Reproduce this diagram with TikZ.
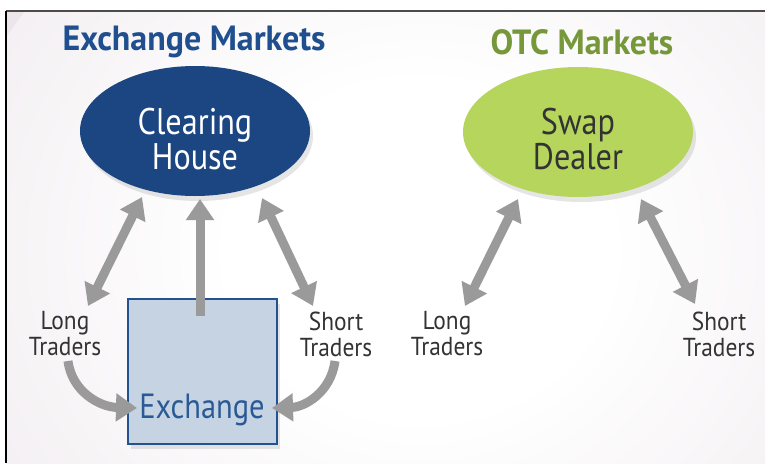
\documentclass[tikz,border=0pt]{standalone}
\usepackage{fontspec}
\setmainfont{PT Sans}
\newfontfamily\condfont[FakeStretch=0.87]{PT Sans}
\newfontfamily\traderfont[FakeStretch=0.9]{PT Sans}
\newfontfamily\titlefont[FakeStretch=0.97]{PT Sans Bold}
\usetikzlibrary{arrows.meta,shapes.geometric,shadows}
\definecolor{bgc}{HTML}{ECE5EA}
\definecolor{chblue}{HTML}{1B4682}
\definecolor{ttlblue}{HTML}{1F4F8E}
\definecolor{ttlgreen}{HTML}{76973A}
\definecolor{sdgreen}{HTML}{B6D55C}
\definecolor{exfill}{HTML}{C6D3E2}
\definecolor{exborder}{HTML}{22528F}
\definecolor{extext}{HTML}{2A5A96}
\definecolor{arrgray}{HTML}{9A9A9A}
\definecolor{txtgray}{HTML}{333333}
\pgfdeclareradialshading{glow}{\pgfpoint{0bp}{0bp}}{color(0bp)=(white); color(10bp)=(white); color(36bp)=(bgc); color(50bp)=(bgc)}
\tikzset{
  title/.style={font=\titlefont\fontsize{35}{38}\selectfont, inner sep=0pt},
  bigoval/.style={ellipse, minimum width=230pt, minimum height=130pt, inner sep=0pt,
    drop shadow={opacity=0.2, shadow xshift=3pt, shadow yshift=-5pt}},
  ovaltext/.style={align=center, inner sep=0pt, font=\condfont\fontsize{37}{35}\selectfont},
  trader/.style={align=center, inner sep=0pt, text=txtgray, font=\traderfont\fontsize{26}{26}\selectfont},
  garrow/.style={draw=arrgray, line width=9pt, -{Triangle[length=21pt,width=27pt]}},
  gdouble/.style={draw=arrgray, line width=9pt, {Triangle[length=21pt,width=27pt]}-{Triangle[length=21pt,width=27pt]}}
}
\begin{document}
\begin{tikzpicture}[x=1pt,y=-1pt]
\useasboundingbox (0,0) rectangle (765,463);
\fill[bgc] (6,11) rectangle (765,463);
\begin{scope}
  \clip (6,11) rectangle (765,463);
  \shade[shading=glow] (420,250) ellipse [x radius=480, y radius=420];
\end{scope}
\draw[line width=2pt, black!70] (6,11) -- (765,11);
\draw[line width=2pt, black] (6,11) -- (6,463);

% titles
\node[title, text=ttlblue] (t1) at (194,42) {Exchange Markets};
\node[title, text=ttlgreen] (t2) at (582,42) {OTC Markets};

% ovals
\node[bigoval, fill=chblue] (ch) at (195,131) {};
\node[ovaltext, text=white] (chl) at (195,139) {Clearing\\House};
\node[bigoval, fill=sdgreen] (sd) at (578,132) {};
\node[ovaltext, text=txtgray] (sdl) at (578,139) {Swap\\Dealer};

% exchange box
\node[draw=exborder, line width=2.5pt, fill=exfill, minimum width=149pt, minimum height=145pt, inner sep=0pt,
  drop shadow={opacity=0.2, shadow xshift=3pt, shadow yshift=-5pt}] (ex) at (202.5,371.5) {};
\node[text=extext, font=\condfont\fontsize{35}{36}\selectfont, inner sep=0pt, anchor=base] (exl) at (202,418) {Exchange};

% traders
\node[trader] (lt1) at (65,334) {Long\\Traders};
\node[trader] (st1) at (336,334) {Short\\Traders};
\node[trader] (lt2) at (447,334) {Long\\Traders};
\node[trader] (st2) at (719,334) {Short\\Traders};

% arrow end points
\coordinate (a1) at (88,306);
\coordinate (a2) at (142,197);
\coordinate (b1) at (200,316);
\coordinate (b2) at (200,199);
\coordinate (c1) at (262,198);
\coordinate (c2) at (313,306);
\coordinate (d1) at (68,361);
\coordinate (d2) at (137,408);
\coordinate (e1) at (335,361);
\coordinate (e2) at (272,408);
\coordinate (f1) at (465,306);
\coordinate (f2) at (518,199);
\coordinate (g1) at (641,199);
\coordinate (g2) at (695,304);

\draw[gdouble] (a1) -- (a2);
\draw[garrow] (b1) -- (b2);
\draw[gdouble] (c1) -- (c2);
\draw[garrow] (d1) .. controls (72,392) and (100,407) .. (d2);
\draw[garrow] (e1) .. controls (331,392) and (305,407) .. (e2);
\draw[gdouble] (f1) -- (f2);
\draw[gdouble] (g1) -- (g2);
\end{tikzpicture}
\end{document}
